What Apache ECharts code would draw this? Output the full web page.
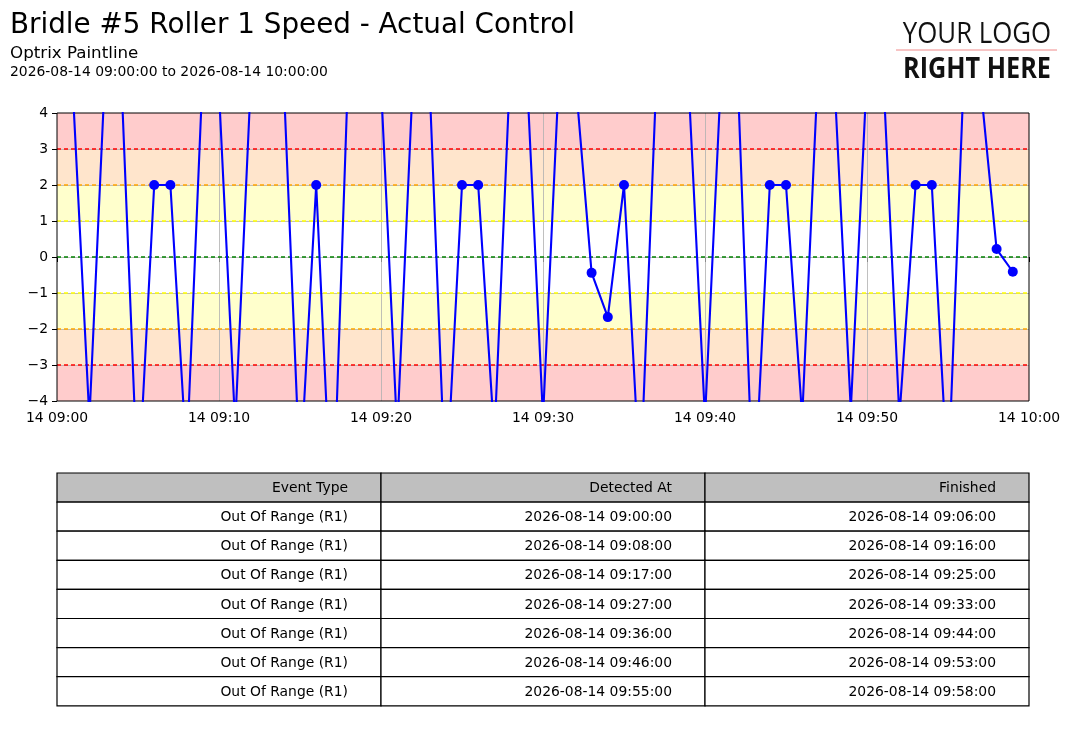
<!DOCTYPE html>
<html>
<head>
<meta charset="utf-8">
<script src="https://cdn.jsdelivr.net/npm/echarts@6/dist/echarts.min.js"></script>
<style>
  html, body { margin: 0; padding: 0; background: #fff; }
  #chart { width: 1073px; height: 744px; }
</style>
</head>
<body>
<div id="chart"></div>
<script>
// --- data ---
var startTime = '2026-08-14 09:00:00';
var endTime = '2026-08-14 10:00:00';
// one reading per minute, 09:00 .. 09:59
var speed = [
  5.0, 4.43, -4.5, 5.46, 4.64, -6.6, 2.0, 2.0, -5.6, 5.17,
  4.6, -4.7, 5.24, 5.6, 4.82, -6.1, 2.0, -7.7, 5.52, 5.8,
  4.8, -4.9, 5.26, 4.78, -6.65, 2.0, 2.0, -5.04, 5.5, 5.1,
  -4.47, 5.2, 4.97, -0.44, -1.67, 2.0, -6.35, 4.96, 5.4, 4.69,
  -4.5, 5.12, 5.24, -7.05, 2.0, 2.0, -4.45, 5.44, 4.8, -4.25,
  5.14, 5.08, -4.45, 2.0, 2.0, -6.3, 5.35, 4.82, 0.22, -0.41
];
var bandEdges = [1, 2, 3, 4];
var bandColors = ['#ffffcc', '#ffe5cc', '#ffcccc'];
var limitLevels = [3, 2, 1, 0, -1, -2, -3];
var limitColors = ['#ff0000', '#ffa500', '#ffff00', '#008000', '#ffff00', '#ffa500', '#ff0000'];

var tableHeader = ['Event Type', 'Detected At', 'Finished'];
var eventTypes = ['Out Of Range (R1)', 'Out Of Range (R1)', 'Out Of Range (R1)', 'Out Of Range (R1)',
  'Out Of Range (R1)', 'Out Of Range (R1)', 'Out Of Range (R1)'];
var detectedAt = ['2026-08-14 09:00:00', '2026-08-14 09:08:00', '2026-08-14 09:17:00', '2026-08-14 09:27:00',
  '2026-08-14 09:36:00', '2026-08-14 09:46:00', '2026-08-14 09:55:00'];
var finishedAt = ['2026-08-14 09:06:00', '2026-08-14 09:16:00', '2026-08-14 09:25:00', '2026-08-14 09:33:00',
  '2026-08-14 09:44:00', '2026-08-14 09:53:00', '2026-08-14 09:58:00'];

function toTime(s) { return new Date(s.replace(' ', 'T')).getTime(); }

var t0 = toTime(startTime);
var t1 = toTime(endTime);
var tickStep = 600000; // 10 minutes
var lineData = speed.map(function (v, i) { return [t0 + i * 60000, v]; });

var font = 'DejaVu Sans';
var gridGray = { color: '#b0b0b0', width: 0.8, type: 'solid' };

// background bands, mirrored around zero
var bands = [];
for (var b = 0; b < bandColors.length; b++) {
  bands.push([{ yAxis: bandEdges[b], itemStyle: { color: bandColors[b] } }, { yAxis: bandEdges[b + 1] }]);
  bands.push([{ yAxis: -bandEdges[b + 1], itemStyle: { color: bandColors[b] } }, { yAxis: -bandEdges[b] }]);
}
// gray grid first (so it sits above the bands), then the dashed limit lines
var refLines = [];
for (var t = t0 + tickStep; t < t1; t += tickStep) refLines.push({ xAxis: t, lineStyle: gridGray });
for (var y = -3; y <= 3; y++) refLines.push({ yAxis: y, lineStyle: gridGray });
limitLevels.forEach(function (lv, i) {
  refLines.push({ yAxis: lv, lineStyle: { color: limitColors[i], type: [4, 3], width: 1.5 } });
});

// --- table under the chart ---
var tblLeft = 57, tblTop = 473, colW = 324, rowH = 29.1;
var rows = [tableHeader];
for (var r = 0; r < eventTypes.length; r++) rows.push([eventTypes[r], detectedAt[r], finishedAt[r]]);
var graphics = [];
rows.forEach(function (row, ri) {
  row.forEach(function (txt, ci) {
    graphics.push({
      type: 'rect', silent: true,
      shape: { x: tblLeft + ci * colW, y: tblTop + ri * rowH, width: colW, height: rowH },
      style: { fill: ri === 0 ? '#bfbfbf' : '#ffffff', stroke: '#000', lineWidth: 1.2 }
    });
    graphics.push({
      type: 'text', silent: true,
      x: tblLeft + (ci + 1) * colW - 33, y: tblTop + ri * rowH + rowH / 2 + 1,
      style: { text: txt, fill: '#000', font: '13.9px "' + font + '"', align: 'right', verticalAlign: 'middle' }
    });
  });
});

// titles
graphics.push(
  { type: 'text', x: 10, y: 26, style: { text: 'Bridle #5 Roller 1 Speed - Actual Control', fill: '#000', font: '27.8px "' + font + '"', verticalAlign: 'middle' } },
  { type: 'text', x: 10, y: 54, style: { text: 'Optrix Paintline', fill: '#000', font: '16.7px "' + font + '"', verticalAlign: 'middle' } },
  { type: 'text', x: 10, y: 72, style: { text: '2026-08-14 09:00:00 to 2026-08-14 10:00:00', fill: '#000', font: '13.9px "' + font + '"', verticalAlign: 'middle' } }
);
// logo placeholder
graphics.push(
  { type: 'text', x: 977, y: 34, scaleX: 0.86, style: { text: 'YOUR LOGO', fill: '#111', font: '30px "Open Sans"', align: 'center', verticalAlign: 'middle' } },
  { type: 'line', shape: { x1: 896, y1: 50, x2: 1057, y2: 50 }, style: { stroke: '#f08a8a', lineWidth: 1 } },
  { type: 'text', x: 977, y: 70, scaleX: 0.87, style: { text: 'RIGHT HERE', fill: '#111', font: 'bold 29px "Open Sans"', align: 'center', verticalAlign: 'middle' } }
);

var chart = echarts.init(document.getElementById('chart'), null, { renderer: 'canvas' });
chart.setOption({
  animation: false,
  backgroundColor: '#fff',
  grid: { left: 57, right: 44, top: 113, height: 288, show: true, borderColor: '#000', borderWidth: 1, backgroundColor: 'transparent', z: 3 },
  xAxis: {
    type: 'value',
    min: t0, max: t1, interval: tickStep,
    axisLine: { show: false },
    axisTick: { show: true, length: 5, lineStyle: { color: '#000' } },
    axisLabel: {
      color: '#000', fontSize: 13.9, fontFamily: font, margin: 10,
      formatter: function (v) { return echarts.time.format(v, '{dd} {HH}:{mm}', false); }
    },
    splitLine: { show: false }
  },
  yAxis: {
    type: 'value',
    min: -4, max: 4, interval: 1,
    axisLine: { show: false },
    axisTick: { show: true, length: 5, lineStyle: { color: '#000' } },
    axisLabel: {
      color: '#000', fontSize: 13.9, fontFamily: font, margin: 9,
      formatter: function (v) { return String(v).replace('-', '\u2212'); }
    },
    splitLine: { show: false }
  },
  series: [
    {
      type: 'line', data: [], z: 1, silent: true,
      markArea: { silent: true, z: 1, data: bands }
    },
    {
      type: 'line', data: [], z: 2, silent: true,
      markLine: { silent: true, z: 2, symbol: 'none', label: { show: false }, data: refLines }
    },
    {
      type: 'line', data: lineData, z: 10,
      clip: true,
      symbol: 'circle', symbolSize: 10, showAllSymbol: true,
      lineStyle: { color: '#0000ff', width: 2.1 },
      itemStyle: { color: '#0000ff', borderColor: '#0000ff', borderWidth: 0, opacity: 1 },
      emphasis: { disabled: true }
    }
  ],
  graphic: graphics
});
window.addEventListener('resize', function () { chart.resize(); });
</script>
</body>
</html>
